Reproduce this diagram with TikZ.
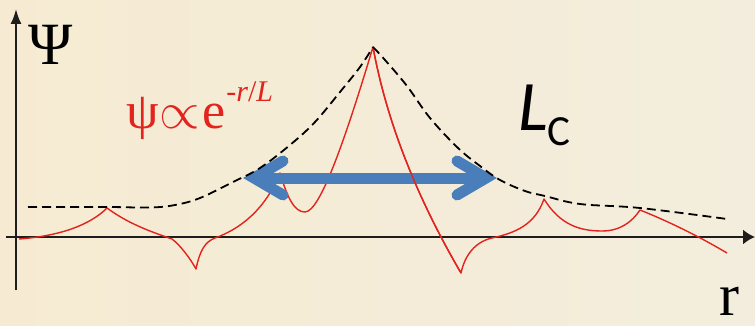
\RequirePackage{fix-cm}
\documentclass[tikz,border=0pt]{standalone}
\usepackage{fontspec}
\setmainfont{Liberation Serif}
\newfontfamily\calib{Carlito}
\usetikzlibrary{arrows.meta}
\definecolor{bgL}{RGB}{246,235,210}
\definecolor{bgR}{RGB}{243,237,221}
\definecolor{wred}{RGB}{226,35,30}
\definecolor{ablue}{RGB}{74,126,187}
\definecolor{axisk}{RGB}{30,28,28}
\begin{document}
\begin{tikzpicture}[x=1pt,y=-1pt,
  axis/.style={line width=2pt,draw=axisk},
  envelope/.style={draw=black,line width=1.8pt,dash pattern=on 9pt off 5pt},
  wave/.style={draw=wred,line width=1.4pt,line join=round},
  lenarrow/.style={draw=ablue,line width=11pt},
  wing/.style={lenarrow,line cap=round,line join=miter}
]
\useasboundingbox (0,0) rectangle (755,326);
\shade[left color=bgL,right color=bgR] (0,0) rectangle (755,326);

% axes
\coordinate (yb) at (16,290); \coordinate (yt) at (16,9);
\coordinate (xl) at (6,237);  \coordinate (xr) at (755,237);
\draw[axis,-{Latex[length=15pt,width=11pt]}] (yb) -- (yt);
\draw[axis,-{Latex[length=12pt,width=15pt]}] (xl) -- (xr);

% red wave function
\draw[wave] (19,239) .. controls (60,236) and (90,225) .. (107,208)
  .. controls (130,225) and (155,233) .. (172,239)
  .. controls (180,245) and (190,258) .. (196,269)
  .. controls (200,250) and (205,242) .. (215,238)
  .. controls (240,229) and (265,210) .. (280,173)
  .. controls (288,200) and (295,212) .. (305,212)
  .. controls (320,212) and (345,140) .. (373,47)
  .. controls (390,140) and (430,220) .. (461,273)
  .. controls (465,255) and (475,242) .. (492,238)
  .. controls (515,233) and (535,225) .. (544,199)
  .. controls (560,225) and (580,231) .. (602,231)
  .. controls (620,231) and (632,222) .. (640,210)
  .. controls (670,222) and (700,237) .. (727,253);

% blue length arrow
\coordinate (al) at (254,178); \coordinate (ar) at (486,178);
\draw[lenarrow] (al) -- (ar);
\draw[wing] (283,161) -- (al) -- (283,195);
\draw[wing] (457,161) -- (ar) -- (457,195);

% red segment crossing over the arrow
\draw[wave] (373,47) .. controls (390,140) and (430,220) .. (461,273);

% dashed envelope
\draw[envelope] plot[smooth,tension=0.6] coordinates {(28,207) (107,207) (150,207.5) (175,205) (200,198) (233,182) (260,168) (290,145) (315,122) (340,92) (360,67) (373,47)};
\draw[envelope] plot[smooth,tension=0.6] coordinates {(373,47) (385,60) (407,86) (430,118) (458,148) (480,166) (500,180) (525,191) (545,196) (580,204) (640,208) (727,219)};

% labels
\node[anchor=base,inner sep=0pt,font=\fontsize{60}{60}\selectfont] (psiax) at (51,65) {Ψ};
\node[anchor=base,inner sep=0pt,font=\fontsize{60}{60}\selectfont] (rax) at (729,315) {r};
\node[anchor=base west,inner sep=0pt,text=wred] (formula) at (126,129)
  {\fontsize{52}{52}\selectfont ψ\hspace{1pt}$\propto$\hspace{2pt}e\hspace{1pt}\raisebox{27pt}{\fontsize{30}{30}\selectfont -\textit{r}/\textit{L}}};
\node[anchor=base west,inner sep=0pt,font=\calib] (lc) at (518,131)
  {\fontsize{71}{71}\selectfont\itshape L\hspace{-1pt}\raisebox{-15pt}{\fontsize{43}{43}\selectfont\upshape C}};
\end{tikzpicture}
\end{document}
